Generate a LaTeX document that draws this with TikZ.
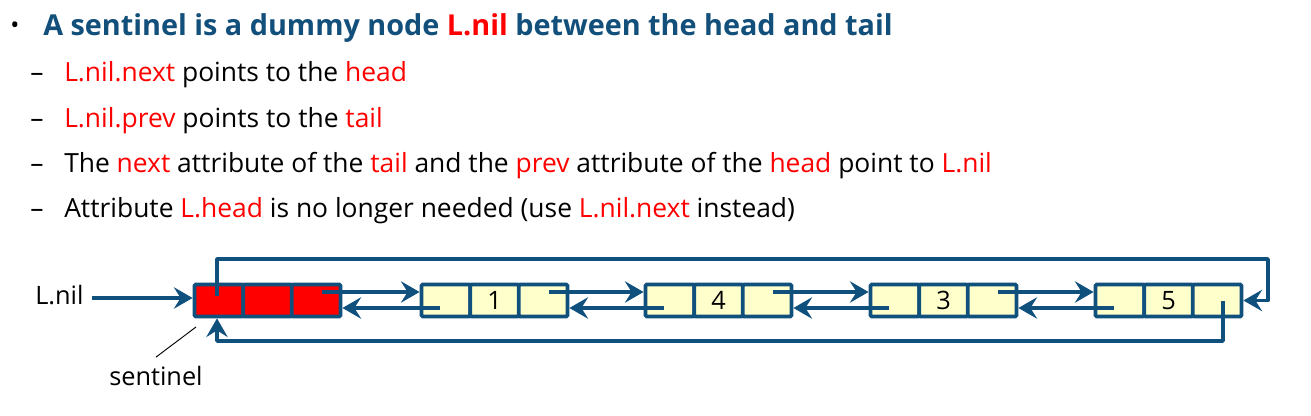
\documentclass[tikz,border=0pt]{standalone}
\usepackage{fontspec}
\setmainfont{Open Sans}
\usetikzlibrary{arrows.meta}
\definecolor{dblue}{RGB}{16,80,124}
\definecolor{tblue}{RGB}{18,79,122}
\definecolor{cyel}{RGB}{255,255,204}
\definecolor{hred}{RGB}{255,0,0}
\begin{document}
\begin{tikzpicture}[x=0.75pt,y=-0.75pt,
  cell/.style={draw=dblue, line width=2.8pt, rounded corners=1pt,
    minimum width=36.5pt, minimum height=24pt, inner sep=0pt,
    font=\fontsize{19}{22}\selectfont},
  ycell/.style={cell, fill=cyel},
  rcell/.style={cell, fill=hred},
  ptr/.style={draw=dblue, line width=2.8pt, line join=round,
    -{Stealth[length=14pt,width=16pt,inset=5pt]}},
  body/.style={anchor=base west, inner sep=0pt, font=\fontsize{19.8}{22}\selectfont},
  head/.style={anchor=base west, inner sep=0pt, text=tblue,
    font=\fontsize{21.6}{24}\selectfont\bfseries},
  lbl/.style={anchor=base west, inner sep=0pt, font=\fontsize{19}{22}\selectfont}]
\useasboundingbox (0,0) rectangle (1311,416);

% text
\node[anchor=center, inner sep=0pt, font=\fontsize{18}{20}\selectfont] (bul) at (15,28) {•};
\node[head] (t0) at (43,36) {A sentinel is a dummy node \textcolor{hred}{L.nil} between the head and tail};
\node[body] (d1) at (30,82) {–};
\node[body] (t1) at (64,82) {\textcolor{hred}{L.nil.next} points to the \textcolor{hred}{head}};
\node[body] (d2) at (30,127.5) {–};
\node[body] (t2) at (64,127.5) {\textcolor{hred}{L.nil.prev} points to the \textcolor{hred}{tail}};
\node[body] (d3) at (30,172.5) {–};
\node[body] (t3) at (64,172.5) {The \textcolor{hred}{next} attribute of the \textcolor{hred}{tail} and the \textcolor{hred}{prev} attribute of the \textcolor{hred}{head} point to \textcolor{hred}{L.nil}};
\node[body] (d4) at (30,217.5) {–};
\node[body] (t4) at (64,217.5) {Attribute \textcolor{hred}{L.head} is no longer needed (use \textcolor{hred}{L.nil.next} instead)};

% list nodes
\foreach \n/\L/\v/\st in {s/193//rcell, n1/420/1/ycell, n2/644/4/ycell, n3/869/3/ycell, n4/1094/5/ycell}{
  \node[\st] (\n-a) at (\L+25.8,300.5) {};
  \node[\st] (\n-b) at (\L+74.5,300.5) {\v};
  \node[\st] (\n-c) at (\L+123.2,300.5) {};
  \coordinate (\n-nx) at (\L+129,292);
  \coordinate (\n-pv) at (\L+20,308);
}

% next / prev pointers
\draw[ptr] (s-nx) -- (s-nx -| n1-a.west);
\draw[ptr] (n1-pv) -- (n1-pv -| s-c.east);
\draw[ptr] (n1-nx) -- (n1-nx -| n2-a.west);
\draw[ptr] (n2-pv) -- (n2-pv -| n1-c.east);
\draw[ptr] (n2-nx) -- (n2-nx -| n3-a.west);
\draw[ptr] (n3-pv) -- (n3-pv -| n2-c.east);
\draw[ptr] (n3-nx) -- (n3-nx -| n4-a.west);
\draw[ptr] (n4-pv) -- (n4-pv -| n3-c.east);

% wrap-around pointers
\coordinate (s-up) at (217,296);
\coordinate (topR) at (1268,259);
\draw[ptr] (s-up) |- (topR) |- (n4-c.east);
\coordinate (n4-dn) at (1223,301);
\coordinate (botL) at (217,341);
\draw[ptr] (n4-dn) |- (botL) -- (botL |- s-a.south);

% L.nil label
\node[lbl] (lnil) at (35,305) {L.nil};
\coordinate (lnil-s) at (92,298);
\draw[ptr] (lnil-s) -- (lnil-s -| s-a.west);

% sentinel label
\node[lbl] (sent) at (109,386) {sentinel};
\coordinate (sentpt) at (196,327);
\draw[black, line width=0.7pt] ([yshift=7pt]sent.north) -- (sentpt);
\end{tikzpicture}
\end{document}
